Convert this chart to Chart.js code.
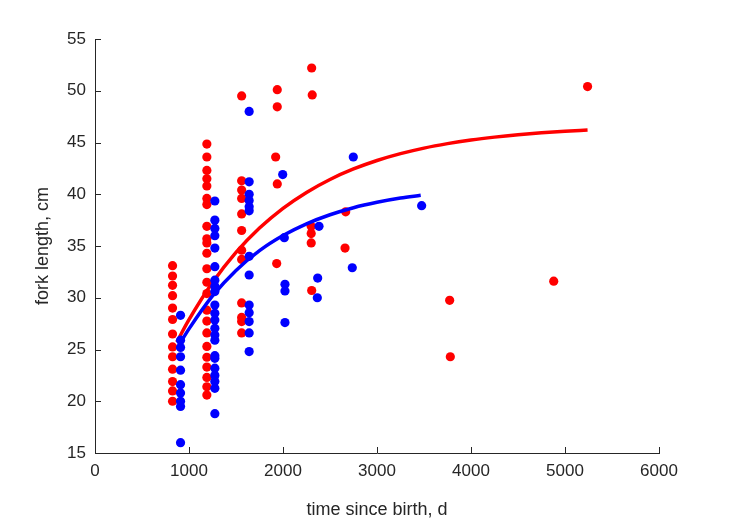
<!DOCTYPE html>
<html>
<head>
<meta charset="utf-8">
<script src="https://cdn.jsdelivr.net/npm/chart.js@4"></script>
<style>
  body { margin: 0; background: #fff; }
  canvas { display: block; }
</style>
</head>
<body>
<canvas id="growth" width="729" height="521"></canvas>
<script>
// observed fish, age in days vs fork length in cm
var redAge = [
  825, 825, 825, 825, 825, 825, 825, 825, 825, 825, 825, 825, 825,
  1190, 1190, 1190, 1190, 1190, 1190, 1190, 1190, 1190, 1190, 1190, 1190,
  1190, 1190, 1190, 1190, 1190, 1190, 1190, 1190, 1190, 1190, 1190,
  1560, 1560, 1560, 1560, 1560, 1560, 1560, 1560, 1560, 1560, 1560, 1560,
  1939, 1939, 1922, 1939, 1933,
  2305, 2311, 2300, 2300, 2300, 2305,
  2667, 2660, 3773, 3780, 4880, 5240
];
var redLen = [
  33.1, 32.1, 31.2, 30.2, 29.0, 27.9, 26.5, 25.25, 24.3, 23.1, 21.9, 21.0, 20.0,
  44.85, 43.6, 42.3, 41.5, 40.8, 39.6, 39.0, 36.9, 35.7, 35.3, 34.3, 32.8,
  31.5, 30.4, 28.8, 27.75, 26.6, 25.3, 24.25, 23.3, 22.3, 21.4, 20.6,
  49.5, 41.3, 40.4, 39.6, 38.1, 36.5, 34.6, 33.7, 29.5, 28.1, 27.7, 26.6,
  50.1, 48.45, 43.6, 41.0, 33.3,
  52.2, 49.6, 36.9, 36.2, 35.3, 30.7,
  38.3, 34.8, 29.75, 24.3, 31.6, 50.4
];

var blueAge = [
  910, 910, 910, 910, 910, 910, 910, 910, 910, 910,
  1275, 1275, 1275, 1275, 1275, 1275, 1275, 1275, 1275, 1275, 1275,
  1275, 1275, 1275, 1275, 1275, 1275, 1275, 1275, 1275, 1275, 1275,
  1640, 1640, 1640, 1640, 1640, 1640, 1640, 1640, 1640, 1640, 1640, 1640, 1640,
  1997, 2014, 2021, 2021, 2021,
  2383, 2369, 2365, 2748, 2737, 3475
];
var blueLen = [
  28.3, 25.9, 25.2, 24.3, 23.0, 21.6, 20.8, 20.0, 19.5, 16.0,
  39.35, 37.5, 36.7, 36.0, 34.8, 33.0, 31.7, 31.1, 30.6, 29.3, 28.5,
  27.85, 27.05, 26.4, 25.9, 24.4, 24.15, 23.2, 22.5, 21.9, 21.25, 18.8,
  48.0, 41.2, 40.0, 39.4, 38.8, 38.4, 34.0, 32.2, 29.3, 28.55, 27.7, 26.6, 24.8,
  41.9, 35.8, 31.3, 30.65, 27.6,
  36.9, 31.9, 30.0, 43.6, 32.9, 38.9
];

// growth curves, every 250 d
var redFitAge = [870, 1000, 1250, 1500, 1750, 2000, 2250, 2500, 2750, 3000,
                 3250, 3500, 3750, 4000, 4250, 4500, 4750, 5000, 5240];
var redFitLen = [25.72, 27.88, 31.47, 34.38, 36.73, 38.64, 40.18, 41.43, 42.44, 43.26,
                 43.92, 44.46, 44.89, 45.24, 45.52, 45.75, 45.94, 46.09, 46.21];
var blueFitAge = [900, 1000, 1250, 1500, 1750, 2000, 2250, 2500, 2750, 3000, 3250, 3465];
var blueFitLen = [25.53, 26.99, 30.18, 32.64, 34.55, 36.01, 37.14, 38.02, 38.70, 39.22, 39.63, 39.90];

var xTicks = [0, 1000, 2000, 3000, 4000, 5000, 6000];
var yTicks = [15, 20, 25, 30, 35, 40, 45, 50, 55];

function pts(xs, ys) {
  return xs.map(function(x, i) { return { x: x, y: ys[i] }; });
}

var axisColor = '#262626';
var font = 'Arial, "Liberation Sans", Helvetica, sans-serif';

// matlab style ticks pointing into the plot
var innerTicks = {
  id: 'innerTicks',
  afterDraw: function(chart) {
    var ctx = chart.ctx;
    var xs = chart.scales.x, ys = chart.scales.y;
    var area = chart.chartArea;
    ctx.save();
    ctx.strokeStyle = axisColor;
    ctx.lineWidth = 1;
    ctx.beginPath();
    xTicks.forEach(function(v) {
      var px = Math.round(xs.getPixelForValue(v)) + 0.5;
      ctx.moveTo(px, area.bottom);
      ctx.lineTo(px, area.bottom - 6);
    });
    yTicks.forEach(function(v) {
      var py = Math.round(ys.getPixelForValue(v)) + 0.5;
      ctx.moveTo(area.left, py);
      ctx.lineTo(area.left + 6, py);
    });
    ctx.stroke();
    ctx.restore();
  }
};

new Chart(document.getElementById('growth'), {
  type: 'scatter',
  data: {
    datasets: [
      {
        data: pts(blueFitAge, blueFitLen),
        showLine: true,
        borderColor: '#0000ff',
        borderWidth: 3.5,
        pointRadius: 0,
        cubicInterpolationMode: 'monotone',
        order: 1
      },
      {
        data: pts(blueAge, blueLen),
        backgroundColor: '#0000ff',
        borderWidth: 0,
        pointRadius: 4.6,
        order: 2
      },
      {
        data: pts(redFitAge, redFitLen),
        showLine: true,
        borderColor: '#ff0000',
        borderWidth: 3.5,
        pointRadius: 0,
        cubicInterpolationMode: 'monotone',
        order: 3
      },
      {
        data: pts(redAge, redLen),
        backgroundColor: '#ff0000',
        borderWidth: 0,
        pointRadius: 4.6,
        order: 4
      }
    ]
  },
  options: {
    responsive: false,
    animation: false,
    layout: { padding: { left: 0, top: 39, right: 70, bottom: 0 } },
    plugins: {
      legend: { display: false },
      tooltip: { enabled: false }
    },
    scales: {
      x: {
        type: 'linear',
        min: 0,
        max: 6000,
        afterFit: function(s) { s.height = 68; },
        afterBuildTicks: function(s) { s.ticks = xTicks.map(function(v) { return { value: v }; }); },
        grid: { drawOnChartArea: false, drawTicks: false },
        border: { display: true, color: axisColor, width: 1 },
        ticks: {
          color: axisColor,
          padding: 8,
          maxRotation: 0,
          font: { family: font, size: 17 },
          callback: function(v) { return String(v); }
        },
        title: {
          display: true,
          text: 'time since birth, d',
          color: axisColor,
          padding: { top: 4, bottom: 0 },
          font: { family: font, size: 18 }
        }
      },
      y: {
        type: 'linear',
        min: 15,
        max: 55,
        afterFit: function(s) { s.width = 95; },
        afterBuildTicks: function(s) { s.ticks = yTicks.map(function(v) { return { value: v }; }); },
        grid: { drawOnChartArea: false, drawTicks: false },
        border: { display: true, color: axisColor, width: 1 },
        ticks: {
          color: axisColor,
          padding: 9,
          font: { family: font, size: 17 },
          callback: function(v) { return String(v); }
        },
        title: {
          display: true,
          text: 'fork length, cm',
          color: axisColor,
          padding: { top: 32, bottom: 0 },
          font: { family: font, size: 18 }
        }
      }
    }
  },
  plugins: [innerTicks]
});
</script>
</body>
</html>
